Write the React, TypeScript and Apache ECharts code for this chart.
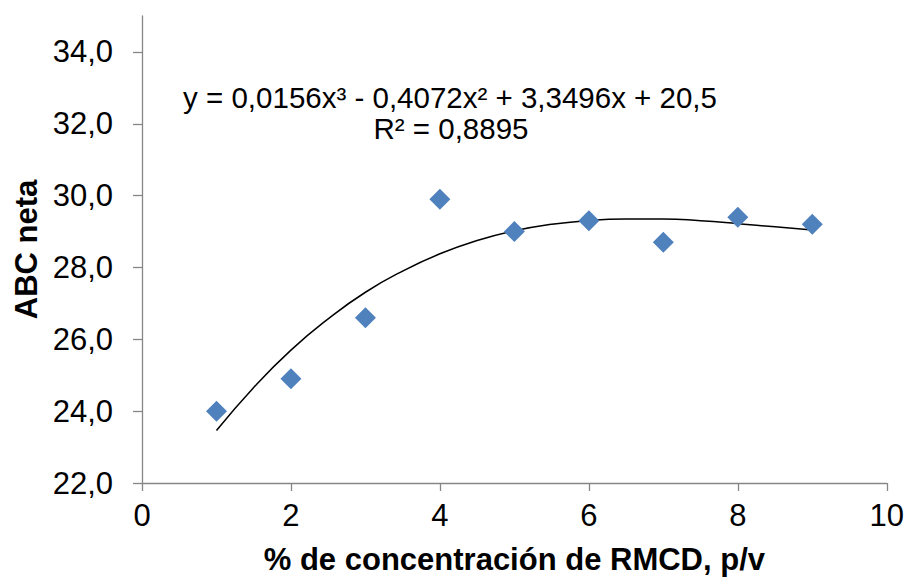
import React, { useEffect, useRef } from "react";
import * as echarts from "echarts";

const xValues = [1, 2, 3, 4, 5, 6, 7, 8, 9];
const yValues = [24.0, 24.9, 26.6, 29.9, 29.0, 29.3, 28.7, 29.4, 29.2];

const trendX = [1, 1.5, 2, 2.5, 3, 3.5, 4, 4.5, 5, 5.5, 6, 6.5, 7, 7.5, 8, 8.5, 9];
const trendY = [23.46, 24.66, 25.7, 26.57, 27.31, 27.9, 28.38, 28.75, 29.02, 29.2, 29.31, 29.35, 29.35, 29.3, 29.22, 29.13, 29.04];

const yTicks = [22, 24, 26, 28, 30, 32, 34];
const xTicks = [0, 2, 4, 6, 8, 10];

const equationText = "y = 0,0156x³ - 0,4072x² + 3,3496x + 20,5";
const r2Text = "R² = 0,8895";
const xTitle = "% de concentración de RMCD, p/v";
const yTitle = "ABC neta";

const FONT = "'Liberation Sans', Arial, sans-serif";

export default function App() {
  const ref = useRef<HTMLDivElement>(null);

  useEffect(() => {
    if (!ref.current) return;
    const chart = echarts.init(ref.current, undefined, { renderer: "svg" });
    const axisColor = "#868686";
    chart.setOption({
      animation: false,
      backgroundColor: "#ffffff",
      grid: { left: 142, right: 19, top: 16, bottom: 93, containLabel: false },
      xAxis: {
        type: "value",
        min: 0,
        max: 10,
        interval: 2,
        splitLine: { show: false },
        axisLine: { show: true, lineStyle: { color: axisColor, width: 1.3 } },
        axisTick: { show: true, length: 8, lineStyle: { color: axisColor, width: 1.3 }, customValues: xTicks },
        axisLabel: {
          color: "#000",
          fontFamily: FONT,
          fontSize: 31,
          margin: 17,
          customValues: xTicks,
        },
        name: xTitle,
        nameLocation: "middle",
        nameGap: 61,
        nameTextStyle: { color: "#000", fontFamily: FONT, fontSize: 31, fontWeight: "bold" },
      },
      yAxis: {
        type: "value",
        min: 22,
        max: 35,
        interval: 2,
        splitLine: { show: false },
        axisLine: { show: true, lineStyle: { color: axisColor, width: 1.3 } },
        axisTick: { show: true, length: 9, lineStyle: { color: axisColor, width: 1.3 }, customValues: yTicks },
        axisLabel: {
          color: "#000",
          fontFamily: FONT,
          fontSize: 31,
          margin: 29,
          customValues: yTicks,
          formatter: (v: number) => v.toFixed(1).replace(".", ","),
        },
        name: yTitle,
        nameLocation: "middle",
        nameGap: 99,
        nameRotate: 90,
        nameTextStyle: { color: "#000", fontFamily: FONT, fontSize: 31, fontWeight: "bold" },
      },
      series: [
        {
          type: "line",
          data: trendX.map((x, i) => [x, trendY[i]]),
          smooth: true,
          showSymbol: false,
          lineStyle: { color: "#000", width: 1.5 },
          z: 2,
        },
        {
          type: "scatter",
          data: xValues.map((x, i) => [x, yValues[i]]),
          symbol: "diamond",
          symbolSize: [21, 21],
          itemStyle: { color: "#4F81BD", opacity: 1 },
          z: 3,
        },
      ],
      graphic: [
        {
          type: "text",
          x: 450,
          y: 97,
          style: {
            text: equationText,
            fontFamily: FONT,
            fontSize: 29.5,
            fill: "#000",
            align: "center",
            verticalAlign: "middle",
          },
        },
        {
          type: "text",
          x: 451,
          y: 128,
          style: {
            text: r2Text,
            fontFamily: FONT,
            fontSize: 29.5,
            fill: "#000",
            align: "center",
            verticalAlign: "middle",
          },
        },
      ],
    });
    return () => chart.dispose();
  }, []);

  return (
    <div
      ref={ref}
      style={{ position: "fixed", left: 0, top: 0, width: 907, height: 580 }}
    />
  );
}
